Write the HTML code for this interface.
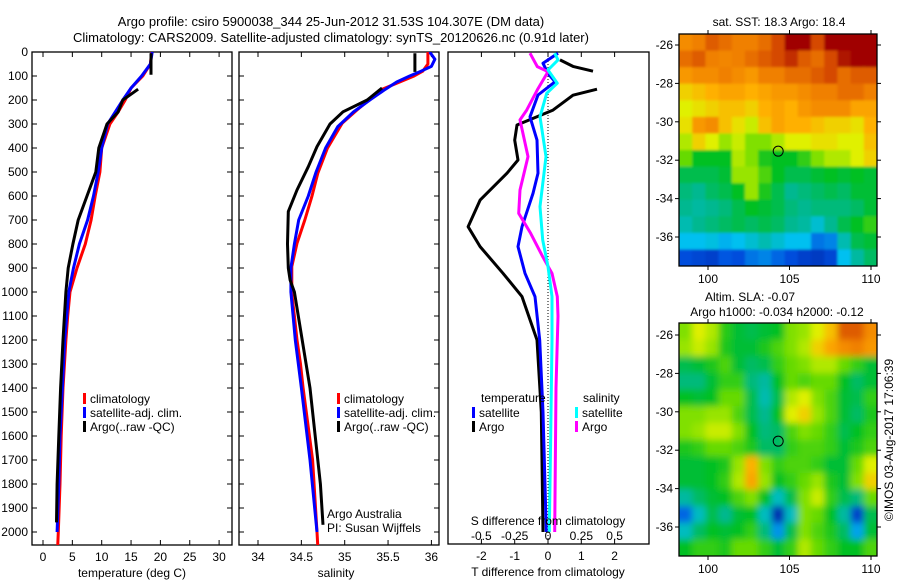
<!DOCTYPE html>
<html><head><meta charset="utf-8"><style>
body{margin:0;background:#fff;width:900px;height:580px;overflow:hidden}
svg{font-family:"Liberation Sans",sans-serif;font-size:12px}
</style></head><body>
<svg id="s" width="900" height="580" viewBox="0 0 900 580">
<defs>
<clipPath id="c1"><rect x="32" y="52" width="200" height="493"/></clipPath>
<clipPath id="c2"><rect x="239" y="52" width="200" height="493"/></clipPath>
<clipPath id="c3"><rect x="448" y="52" width="201" height="492"/></clipPath>
<clipPath id="cm1"><rect x="679" y="34" width="198" height="232"/></clipPath>
<clipPath id="cm2"><rect x="679" y="323" width="198" height="233"/></clipPath>
<filter id="bl1" x="-5%" y="-5%" width="110%" height="110%"><feGaussianBlur stdDeviation="1.2"/></filter>
<filter id="bl2" x="-5%" y="-5%" width="110%" height="110%"><feGaussianBlur stdDeviation="3.5"/></filter>
</defs>
<text x="331" y="26" text-anchor="middle" font-size="13">Argo profile: csiro 5900038_344 25-Jun-2012 31.53S 104.307E (DM data)</text>
<text x="331" y="42" text-anchor="middle" font-size="13">Climatology: CARS2009. Satellite-adjusted climatology: synTS_20120626.nc (0.91d later)</text>
<g id="g"></g>
</svg>
<script>
// ---- temperature panel data (depth m, deg C)
const tClimDepth=[0,50,100,150,200,250,300,400,500,600,700,800,900,1000,1100,1200,1400,1600,1800,2000,2060];
const tClim=[18.5,18.3,17.0,15.0,14.0,12.8,11.4,10.0,9.7,8.9,8.2,7.2,5.8,4.6,4.2,3.9,3.4,3.1,2.9,2.6,2.5];
const tSatDepth=[0,50,100,150,200,300,400,500,600,700,800,900,1000,1200,1400,1600,1800,2000];
const tSat=[18.6,18.3,16.8,15.0,13.6,11.0,10.0,9.4,8.6,7.6,6.2,5.2,4.4,3.7,3.3,2.9,2.7,2.4];
const tArgoDepth=[5,95,null,155,200,250,300,400,500,600,700,800,900,1000,1200,1400,1600,1800,1960];
const tArgo=[18.4,18.4,null,16.2,13.6,12.8,10.9,9.5,9.0,7.5,6.0,5.1,4.3,3.9,3.4,3.0,2.7,2.4,2.3];
const tTicks=[0,5,10,15,20,25,30];
// ---- salinity panel data
const sClimDepth=[0,50,80,100,130,160,200,242,297,401,505,603,700,797,894,1006,1100,1200,1300,1400,1700,2000,2060];
const sClim=[35.96,35.96,35.9,35.8,35.6,35.4,35.28,35.14,34.97,34.8,34.69,34.62,34.54,34.45,34.39,34.39,34.42,34.45,34.49,34.52,34.63,34.68,34.69];
const sSatDepth=[0,30,60,80,100,125,160,200,250,311,400,500,600,700,800,900,1000,1200,1400,1700,2000];
const sSat=[35.98,36.04,36.0,35.88,35.75,35.6,35.45,35.29,35.1,34.92,34.78,34.67,34.58,34.47,34.42,34.38,34.38,34.43,34.5,34.6,34.68];
const sArgoDepth=[5,83,null,150,200,249,300,394,478,575,665,800,900,950,1000,1400,1800,1970];
const sArgo=[35.81,35.81,null,35.43,35.26,34.98,34.83,34.68,34.58,34.45,34.35,34.34,34.35,34.37,34.42,34.6,34.72,34.75];
const sTicks=[34,34.5,35,35.5,36];
// ---- difference panel data
const dTArgoDepth=[33,60,80,null,155,180,242,304,367,450,505,617,728,811,922,1019,1200,1500,2000];
const dTArgo=[0.36,0.75,1.35,null,1.47,0.75,0.15,-0.93,-1.0,-0.9,-1.23,-2.04,-2.4,-2.04,-1.35,-0.78,-0.33,-0.2,-0.15];
const dTSatDepth=[5,47,89,124,179,270,367,505,589,728,811,922,1019,1200,1500,2000];
const dTSat=[0.3,-0.15,0.0,0.21,-0.3,-0.54,-0.33,-0.3,-0.45,-0.78,-0.9,-0.69,-0.39,-0.25,-0.15,-0.05];
const dSArgoDepth=[5,61,82,158,242,283,436,575,672,756,853,922,1019,1100,1400,2000];
const dSArgo=[-0.135,-0.08,0,-0.08,-0.16,-0.21,-0.15,-0.21,-0.22,-0.13,-0.04,0.03,0.07,0.075,0.06,0.05];
const dSSatDepth=[5,33,75,130,172,270,436,644,783,894,1019,1200,1600,2000];
const dSSat=[0.05,0.075,0,0.07,-0.01,-0.06,-0.015,-0.06,-0.04,0,0.03,0.03,0.02,0.01];
const dTTicks=[-2,-1,0,1,2];
const dSTicks=[-0.5,-0.25,0,0.25,0.5];
const dSTickLabels=["-0.5","-0.25","0","0.25","0.5"];
const depthTicks=[0,100,200,300,400,500,600,700,800,900,1000,1100,1200,1300,1400,1500,1600,1700,1800,1900,2000];
// ---- maps
const latTicks=[-26,-28,-30,-32,-34,-36];
const lonTicks=[100,105,110];
const argoLon=104.307, argoLat=-31.53;
const sstGrid=[
[0.84,0.86,0.9,0.88,0.86,0.86,0.88,0.92,1,1,0.92,1,1,1,1],
[0.88,0.9,0.86,0.85,0.86,0.88,0.9,0.92,0.95,0.9,0.88,0.92,0.98,1,1],
[0.82,0.84,0.84,0.86,0.84,0.82,0.86,0.86,0.88,0.88,0.9,0.92,0.88,0.9,0.9],
[0.74,0.76,0.78,0.8,0.8,0.78,0.8,0.82,0.82,0.84,0.86,0.86,0.88,0.88,0.86],
[0.7,0.72,0.74,0.76,0.76,0.74,0.78,0.8,0.78,0.82,0.84,0.84,0.84,0.8,0.8],
[0.72,0.82,0.84,0.76,0.72,0.68,0.76,0.8,0.78,0.78,0.76,0.74,0.74,0.72,0.78],
[0.66,0.74,0.7,0.64,0.68,0.62,0.62,0.66,0.7,0.7,0.72,0.72,0.7,0.7,0.76],
[0.6,0.52,0.52,0.52,0.66,0.62,0.54,0.52,0.52,0.56,0.62,0.66,0.66,0.7,0.74],
[0.48,0.48,0.48,0.5,0.64,0.64,0.58,0.52,0.48,0.48,0.5,0.52,0.5,0.52,0.5],
[0.44,0.42,0.46,0.48,0.52,0.64,0.54,0.48,0.42,0.44,0.46,0.48,0.46,0.5,0.5],
[0.42,0.4,0.42,0.44,0.48,0.52,0.5,0.48,0.44,0.42,0.44,0.44,0.44,0.46,0.5],
[0.38,0.42,0.44,0.46,0.48,0.46,0.48,0.46,0.42,0.4,0.34,0.42,0.48,0.52,0.56],
[0.3,0.3,0.32,0.28,0.3,0.34,0.38,0.34,0.3,0.3,0.2,0.22,0.38,0.48,0.5],
[0.14,0.12,0.1,0.16,0.14,0.2,0.22,0.18,0.14,0.1,0.08,0.12,0.3,0.4,0.46]];
const slaGrid=[
[0.62,0.7,0.66,0.55,0.5,0.48,0.5,0.52,0.62,0.64,0.7,0.76,0.9,0.9,0.84],
[0.64,0.68,0.64,0.54,0.5,0.5,0.54,0.58,0.62,0.66,0.74,0.8,0.84,0.86,0.82],
[0.48,0.5,0.54,0.58,0.5,0.46,0.48,0.56,0.6,0.62,0.66,0.66,0.6,0.56,0.5],
[0.44,0.44,0.5,0.56,0.56,0.44,0.4,0.52,0.6,0.58,0.6,0.6,0.52,0.46,0.5],
[0.52,0.5,0.52,0.6,0.6,0.48,0.38,0.48,0.66,0.7,0.62,0.58,0.5,0.48,0.56],
[0.62,0.62,0.64,0.64,0.58,0.48,0.42,0.52,0.7,0.74,0.64,0.58,0.5,0.46,0.54],
[0.62,0.64,0.68,0.68,0.62,0.52,0.44,0.46,0.58,0.62,0.6,0.56,0.48,0.52,0.56],
[0.54,0.56,0.6,0.6,0.58,0.54,0.46,0.46,0.56,0.58,0.58,0.56,0.5,0.54,0.58],
[0.5,0.5,0.52,0.54,0.64,0.78,0.62,0.56,0.58,0.58,0.56,0.5,0.5,0.6,0.7],
[0.5,0.5,0.52,0.56,0.66,0.8,0.64,0.52,0.56,0.6,0.64,0.54,0.5,0.62,0.74],
[0.4,0.46,0.5,0.52,0.58,0.62,0.52,0.36,0.48,0.62,0.68,0.56,0.48,0.44,0.6],
[0.18,0.36,0.48,0.42,0.5,0.52,0.36,0.04,0.36,0.62,0.6,0.52,0.4,0.1,0.48],
[0.36,0.46,0.52,0.5,0.52,0.56,0.44,0.24,0.48,0.62,0.58,0.54,0.46,0.26,0.5],
[0.52,0.56,0.56,0.54,0.6,0.6,0.56,0.5,0.56,0.66,0.6,0.56,0.52,0.52,0.58]];

const NS="http://www.w3.org/2000/svg";
const G=document.getElementById('g');
function el(tag,attrs,parent){const e=document.createElementNS(NS,tag);for(const k in attrs)e.setAttribute(k,attrs[k]);(parent||G).appendChild(e);return e;}
function txt(x,y,s,anchor,parent){const e=el('text',{x:x,y:y,'text-anchor':anchor||'start'},parent);e.textContent=s;return e;}
const yD=d=>52+0.24*d;
const x1=t=>43+5.87*t;
const x2=s=>258+86.7*(s-34);
const x3=t=>548+33.3*t;
const x3s=s=>548+133.3*s;

function line(xs,ds,fx,color,clip,name,w){
  let d='',pen=false;
  for(let i=0;i<xs.length;i++){
    if(xs[i]===null||ds[i]===null){pen=false;continue;}
    d+=(pen?'L':'M')+fx(xs[i]).toFixed(1)+' '+yD(ds[i]).toFixed(1);pen=true;
  }
  const p=el('path',{d:d,fill:'none',stroke:color,'stroke-width':w||3,'stroke-linejoin':'round','clip-path':'url(#'+clip+')'});
  
  
}
function box(x0,x1b,y0,y1){
  const r=el('rect',{x:x0,y:y0,width:x1b-x0,height:y1-y0,fill:'none',stroke:'#000','stroke-width':1.3});
  
  
}
function depthAxis(x0,xr,labels){
  depthTicks.forEach(d=>{
    const y=yD(d);
    el('line',{x1:x0,y1:y,x2:x0+5,y2:y,stroke:'#000'});
    el('line',{x1:xr,y1:y,x2:xr-5,y2:y,stroke:'#000'});
    if(labels){const t=txt(x0-4,y+4,String(d),'end');
      
      }
  });
}
// Panel 1
box(32,232,52,545);
depthAxis(32,232,true);
tTicks.forEach(v=>{const x=x1(v);
  el('line',{x1:x,y1:52,x2:x,y2:57,stroke:'#000'});el('line',{x1:x,y1:545,x2:x,y2:540,stroke:'#000'});
  const t=txt(x,561,String(v),'middle');
  
  });
line(tClim,tClimDepth,x1,'#f00','c1','temp-climatology-line');
line(tSat,tSatDepth,x1,'#00f','c1','temp-satellite-line');
line(tArgo,tArgoDepth,x1,'#000','c1','temp-argo-line');
{const t=txt(132,577,'temperature (deg C)','middle');}
function legend3(x,y,items){
  items.forEach((it,i)=>{
    const r=el('rect',{x:x,y:y+i*14-10,width:3,height:11,fill:it[0]});
    
    
    const t=txt(x+7,y+i*14,it[1]);
    
    
  });
}
legend3(83,403,[['#f00','climatology'],['#00f','satellite-adj. clim.'],['#000','Argo(..raw -QC)']]);
// Panel 2
box(239,439,52,545);
depthAxis(239,439,false);
sTicks.forEach(v=>{const x=x2(v);
  el('line',{x1:x,y1:52,x2:x,y2:57,stroke:'#000'});el('line',{x1:x,y1:545,x2:x,y2:540,stroke:'#000'});
  const t=txt(x,561,String(v),'middle');
  
  });
line(sClim,sClimDepth,x2,'#f00','c2','sal-climatology-line');
line(sSat,sSatDepth,x2,'#00f','c2','sal-satellite-line');
line(sArgo,sArgoDepth,x2,'#000','c2','sal-argo-line');
{const t=txt(336,577,'salinity','middle');}
legend3(337,403,[['#f00','climatology'],['#00f','satellite-adj. clim.'],['#000','Argo(..raw -QC)']]);
{const t=txt(327,518,'Argo Australia');
 const u=txt(327,532,'PI: Susan Wijffels');}
// Panel 3
box(448,649,52,544);
el('line',{x1:548,y1:52,x2:548,y2:544,stroke:'#000','stroke-width':1,'stroke-dasharray':'1 2'});
dTTicks.forEach(v=>{const x=x3(v);
  el('line',{x1:x,y1:52,x2:x,y2:57,stroke:'#000'});el('line',{x1:x,y1:544,x2:x,y2:539,stroke:'#000'});
  const t=txt(x,560,String(v),'middle');
  
  });
line(dTArgo,dTArgoDepth,x3,'#000','c3','t-diff-argo-line');
line(dTSat,dTSatDepth,x3,'#00f','c3','t-diff-satellite-line');
line(dSArgo,dSArgoDepth,x3s,'#f0f','c3','s-diff-argo-line');
line(dSSat,dSSatDepth,x3s,'#0ff','c3','s-diff-satellite-line');
dSTicks.forEach((v,i)=>{const t=txt(x3s(v),540,dSTickLabels[i],'middle');
  
  });
{const t=txt(548,525,'S difference from climatology','middle');
 const u=txt(548,576,'T difference from climatology','middle');
 const a=txt(481,402,'temperature');
 const b=txt(583,402,'salinity');}
legend3(472,417,[['#00f','satellite'],['#000','Argo']]);
legend3(575,417,[['#0ff','satellite'],['#f0f','Argo']]);
// Maps
const stops=[[0,[0,32,160]],[0.15,[0,80,224]],[0.3,[0,192,240]],[0.42,[0,184,144]],[0.52,[0,192,32]],[0.62,[128,224,0]],[0.7,[224,240,0]],[0.78,[255,176,0]],[0.86,[240,128,0]],[0.93,[208,64,0]],[1,[160,0,0]]];
function cmap(v){v=Math.max(0,Math.min(1,v));for(let i=1;i<stops.length;i++){if(v<=stops[i][0]){const a=stops[i-1],b=stops[i];const f=(v-a[0])/(b[0]-a[0]);return 'rgb('+a[1].map((c,k)=>Math.round(c+(b[1][k]-c)*f)).join(',')+')';}}return 'rgb(160,0,0)';}
const mx=lon=>708+16.3*(lon-100);
function drawMap(grid,top,bottom,clip,filt,name,lat26,lat36){
  const my=lat=>lat26+(lat36-lat26)*(lat+26)/(-10);
  const g=el('g',{'clip-path':'url(#'+clip+')'});
  
  
  el('rect',{x:679,y:top,width:198,height:bottom-top,fill:cmap(grid[7][7])},g);
  const inner=el('g',{filter:'url(#'+filt+')'},g);
  const rows=grid.length,cols=grid[0].length,cw=198/cols,ch=(bottom-top)/rows;
  for(let r=-1;r<=rows;r++)for(let c=-1;c<=cols;c++){
    const rr=Math.max(0,Math.min(rows-1,r)),cc=Math.max(0,Math.min(cols-1,c));
    const cell=el('rect',{x:679+c*cw,y:top+r*ch,width:cw+0.6,height:ch+0.6,fill:cmap(grid[rr][cc])},inner);
    
    
  }
  box(679,877,top,bottom);
  latTicks.forEach(l=>{const y=my(l);
    el('line',{x1:679,y1:y,x2:675,y2:y,stroke:'#000'});el('line',{x1:877,y1:y,x2:881,y2:y,stroke:'#000'});
    const t=txt(673,y+4,String(l),'end');});
  lonTicks.forEach(l=>{const x=mx(l);
    el('line',{x1:x,y1:bottom,x2:x,y2:bottom+4,stroke:'#000'});el('line',{x1:x,y1:top,x2:x,y2:top-4,stroke:'#000'});
    const t=txt(x,bottom+17,String(l),'middle');});
  const c=el('circle',{cx:mx(argoLon),cy:my(argoLat),r:5,fill:'none',stroke:'#000','stroke-width':1});
  
  
}
drawMap(sstGrid,34,266,'cm1','bl1','sst-map',45,237);
drawMap(slaGrid,323,556,'cm2','bl2','sla-map',335,527);
{const t=txt(779,26,'sat. SST: 18.3 Argo: 18.4','middle');
 const u=txt(750,301,'Altim. SLA: -0.07','middle');
 const v=txt(777,316,'Argo h1000: -0.034 h2000: -0.12','middle');
 const w=txt(0,0,'©IMOS 03-Aug-2017 17:06:39','middle');w.setAttribute('transform','translate(893,440) rotate(-90)');}
</script>
</body></html>
